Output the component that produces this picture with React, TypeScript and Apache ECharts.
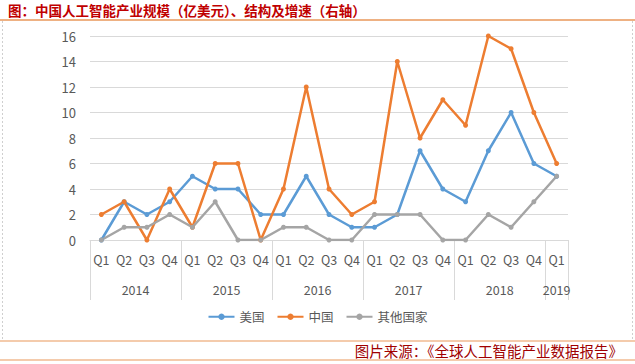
import React, { useEffect, useRef } from "react";
import * as echarts from "echarts";

const quarters = [
  "Q1", "Q2", "Q3", "Q4",
  "Q1", "Q2", "Q3", "Q4",
  "Q1", "Q2", "Q3", "Q4",
  "Q1", "Q2", "Q3", "Q4",
  "Q1", "Q2", "Q3", "Q4",
  "Q1",
];
const years = ["2014", "2015", "2016", "2017", "2018", "2019"];
// year label positions measured in quarters from the axis start
const yearCenters = [2, 6, 10, 14, 18, 20.5];

const usValues = [0, 3, 2, 3, 5, 4, 4, 2, 2, 5, 2, 1, 1, 2, 7, 4, 3, 7, 10, 6, 5];
const chinaValues = [2, 3, 0, 4, 1, 6, 6, 0, 4, 12, 4, 2, 3, 14, 8, 11, 9, 16, 15, 10, 6];
const otherValues = [0, 1, 1, 2, 1, 3, 0, 0, 1, 1, 0, 0, 2, 2, 2, 0, 0, 2, 1, 3, 5];

const FONT = "'Microsoft YaHei', 'Noto Sans CJK SC', sans-serif";

export default function App() {
  const ref = useRef<HTMLDivElement>(null);
  useEffect(() => {
    if (!ref.current) return;
    const chart = echarts.init(ref.current, undefined, { renderer: "svg" });
    const mk = (name: string, data: number[], color: string) => ({
      name,
      type: "line",
      data,
      xAxisIndex: 0,
      yAxisIndex: 0,
      symbol: "circle",
      symbolSize: 5,
      itemStyle: { color },
      lineStyle: { color, width: 2.5 },
    });
    chart.setOption({
      animation: false,
      textStyle: { fontFamily: FONT },
      grid: { left: 90, right: 67, top: 36, bottom: 124, containLabel: false },
      xAxis: [
        {
          type: "category",
          data: quarters,
          boundaryGap: true,
          axisLine: { show: true, lineStyle: { color: "#d9d9d9", width: 1 } },
          axisTick: { show: true, interval: 3, length: 60, lineStyle: { color: "#d9d9d9" } },
          axisLabel: { interval: 0, color: "#595959", fontSize: 12.5, margin: 13, fontFamily: FONT },
        },
        {
          type: "value",
          min: 0,
          max: 21,
          interval: 0.5,
          position: "bottom",
          axisLine: { show: false },
          axisTick: { show: false },
          splitLine: { show: false },
          axisLabel: {
            show: true,
            color: "#595959",
            fontSize: 12.5,
            margin: 43,
            fontFamily: FONT,
            showMinLabel: true,
            showMaxLabel: true,
            formatter: (v: number) => {
              const i = yearCenters.findIndex((c) => Math.abs(c - v) < 1e-6);
              return i >= 0 ? years[i] : "";
            },
          },
        },
      ],
      yAxis: {
        type: "value",
        min: 0,
        max: 16,
        interval: 2,
        axisLine: { show: false },
        axisTick: { show: false },
        splitLine: { lineStyle: { color: "#d9d9d9", width: 1 } },
        axisLabel: { color: "#595959", fontSize: 13, margin: 14, fontFamily: FONT },
      },
      legend: {
        bottom: 36,
        left: "center",
        itemWidth: 26,
        itemHeight: 8,
        itemGap: 12,
        textStyle: { color: "#595959", fontSize: 12.5, fontFamily: FONT },
        data: ["美国", "中国", "其他国家"],
      },
      series: [
        mk("美国", usValues, "#5B9BD5"),
        mk("中国", chinaValues, "#ED7D31"),
        mk("其他国家", otherValues, "#A5A5A5"),
      ],
      graphic: [
        {
          type: "text",
          left: 8,
          top: 3,
          style: {
            text: "图：中国人工智能产业规模（亿美元）、结构及增速（右轴）",
            fill: "#C00000",
            fontSize: 13.5,
            fontWeight: "bold",
            fontFamily: FONT,
          },
        },
        { type: "line", shape: { x1: 0, y1: 20, x2: 635, y2: 20 }, style: { stroke: "#E9975A", lineWidth: 1.5 } },
        { type: "line", shape: { x1: 2.5, y1: 21, x2: 2.5, y2: 340 }, style: { stroke: "#cfcfcf", lineWidth: 1, lineDash: [2, 2] } },
        { type: "line", shape: { x1: 632.5, y1: 21, x2: 632.5, y2: 340 }, style: { stroke: "#cfcfcf", lineWidth: 1, lineDash: [2, 2] } },
        { type: "line", shape: { x1: 0, y1: 341, x2: 635, y2: 341 }, style: { stroke: "#E9975A", lineWidth: 1.2 } },
        { type: "line", shape: { x1: 0, y1: 360, x2: 635, y2: 360 }, style: { stroke: "#E9975A", lineWidth: 1.2 } },
        {
          type: "text",
          right: 12,
          top: 343,
          style: {
            text: "图片来源：《全球人工智能产业数据报告》",
            fill: "#A00000",
            fontSize: 14.5,
            fontFamily: FONT,
          },
        },
      ],
    });
    return () => chart.dispose();
  }, []);
  return <div ref={ref} style={{ width: 635, height: 364, position: "absolute", left: 0, top: 0, background: "#fff" }} />;
}
